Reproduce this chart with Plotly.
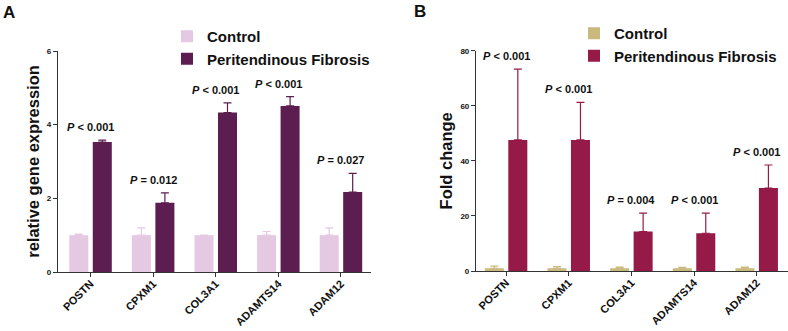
import plotly.graph_objects as go

genes = ["POSTN", "CPXM1", "COL3A1", "ADAMTS14", "ADAM12"]

# Panel A: relative gene expression
a_control = [1.0, 1.0, 1.0, 1.0, 1.0]
a_control_err = [0.03, 0.2, 0.0, 0.1, 0.2]
a_fibrosis = [3.53, 1.88, 4.33, 4.51, 2.17]
a_fibrosis_err = [0.05, 0.27, 0.26, 0.25, 0.51]
a_pvals = ["<i>P</i> &lt; 0.001", "<i>P</i> = 0.012", "<i>P</i> &lt; 0.001",
           "<i>P</i> &lt; 0.001", "<i>P</i> = 0.027"]
a_ticks = [0, 2, 4, 6]

# Panel B: fold change
b_control = [1.0, 1.0, 1.0, 1.0, 1.0]
b_control_err = [0.8, 0.6, 0.4, 0.3, 0.4]
b_fibrosis = [47.6, 47.6, 14.3, 13.7, 30.1]
b_fibrosis_err = [25.7, 13.6, 6.7, 7.3, 8.4]
b_pvals = ["<i>P</i> &lt; 0.001", "<i>P</i> &lt; 0.001", "<i>P</i> = 0.004",
           "<i>P</i> &lt; 0.001", "<i>P</i> &lt; 0.001"]
b_ticks = [0, 20, 40, 60, 80]

W, H = 788, 331
FONT = "Liberation Sans, Arial, sans-serif"
AX = "#333333"

colA = ["#E5C8E2", "#5C1E51"]
colB = ["#C9B97C", "#951A48"]

fig = go.Figure()

def add_bars(xa, ya, vals, errs, color, name, legend):
    fig.add_trace(go.Bar(
        x=genes, y=vals, name=name, marker=dict(color=color, line=dict(width=0)),
        error_y=dict(type="data", array=errs, arrayminus=[0]*len(errs), symmetric=False,
                     color=color, thickness=1.2, width=4),
        xaxis=xa, yaxis=ya, legend=legend))

add_bars("x", "y", a_control, a_control_err, colA[0], "Control", "legend")
add_bars("x", "y", a_fibrosis, a_fibrosis_err, colA[1], "Peritendinous Fibrosis", "legend")
add_bars("x2", "y2", b_control, b_control_err, colB[0], "Control", "legend2")
add_bars("x2", "y2", b_fibrosis, b_fibrosis_err, colB[1], "Peritendinous Fibrosis", "legend2")

annotations = []
for g, v, e, t in zip(genes, a_fibrosis, a_fibrosis_err, a_pvals):
    annotations.append(dict(x=g, y=v + e, xref="x", yref="y", text=t, showarrow=False,
                            yanchor="bottom", yshift=5,
                            font=dict(family=FONT, size=11, color="#111", weight="bold")))
for g, v, e, t in zip(genes, b_fibrosis, b_fibrosis_err, b_pvals):
    annotations.append(dict(x=g, y=v + e, xref="x2", yref="y2", text=t, showarrow=False,
                            yanchor="bottom", yshift=5,
                            font=dict(family=FONT, size=11, color="#111", weight="bold")))
annotations.append(dict(x=0.5 / W, y=1 - 0.5 / H, xref="paper", yref="paper", text="A",
                        showarrow=False, xanchor="left", yanchor="top",
                        font=dict(family=FONT, size=17, color="#111", weight="bold")))
annotations.append(dict(x=411.5 / W, y=1, xref="paper", yref="paper", text="B",
                        showarrow=False, xanchor="left", yanchor="top",
                        font=dict(family=FONT, size=17, color="#111", weight="bold")))

xaxis_common = dict(type="category", showline=True, linecolor=AX, linewidth=1.2,
                    ticks="outside", ticklen=4, tickcolor=AX, tickangle=-45,
                    showgrid=False, zeroline=False, automargin=False,
                    ticklabelstandoff=-4,
                    tickfont=dict(family=FONT, size=11, color="#111", weight="bold"))
yaxis_common = dict(showline=True, linecolor=AX, linewidth=1.2, ticks="outside",
                    ticklen=4, tickcolor=AX, showgrid=False, zeroline=False,
                    automargin=False,
                    tickfont=dict(family=FONT, size=8, color="#111", weight="bold"))

fig.update_layout(
    width=W, height=H, margin=dict(l=0, r=0, t=0, b=0, autoexpand=False),
    paper_bgcolor="white", plot_bgcolor="white",
    barmode="group", bargap=0.25, bargroupgap=0.19,
    font=dict(family=FONT),
    xaxis=dict(domain=[58 / W, 371 / W], range=[-0.52, 4.48], anchor="y", **xaxis_common),
    yaxis=dict(domain=[59 / H, 280 / H], range=[0, 6], tickvals=a_ticks, anchor="x",
               title=dict(text="relative gene expression", standoff=3,
                          font=dict(family=FONT, size=16.5, color="#111", weight="bold")),
               **yaxis_common),
    xaxis2=dict(domain=[476 / W, 1.0], range=[-0.48, 4.5], anchor="y2", **xaxis_common),
    yaxis2=dict(domain=[60 / H, 280.3 / H], range=[0, 80], tickvals=b_ticks, anchor="x2",
                title=dict(text="Fold change", standoff=3,
                           font=dict(family=FONT, size=16.5, color="#111", weight="bold")),
                **yaxis_common),
    legend=dict(x=167 / W, y=1 - 20 / H, xanchor="left", yanchor="top",
                bgcolor="rgba(0,0,0,0)", tracegroupgap=0,
                font=dict(family=FONT, size=15, color="#111", weight="bold")),
    legend2=dict(x=574 / W, y=1 - 17 / H, xanchor="left", yanchor="top",
                 bgcolor="rgba(0,0,0,0)", tracegroupgap=0,
                 font=dict(family=FONT, size=15, color="#111", weight="bold")),
    annotations=annotations,
    showlegend=True,
)

fig.write_html("out.html", config={"displayModeBar": False},
               post_script="document.body.style.margin='0';")
